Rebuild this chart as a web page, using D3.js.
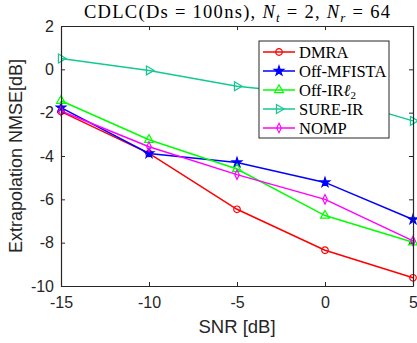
<!DOCTYPE html>
<html>
<head>
<meta charset="utf-8">
<script src="https://cdn.jsdelivr.net/npm/d3@7"></script>
<style>
  body { margin: 0; background: #fff; }
  svg { display: block; }
</style>
</head>
<body>
<script>
// values
var snr = [-15, -10, -5, 0, 5];
var dmra = [-1.95, -3.88, -6.46, -8.35, -9.62];
var mfista = [-1.77, -3.88, -4.3, -5.22, -6.93];
var offIr = [-1.45, -3.25, -4.6, -6.75, -7.98];
var sureIr = [0.5, -0.05, -0.78, -1.2, -2.38];
var nomp = [-1.92, -3.57, -4.86, -6.0, -7.92];
var names = ['DMRA', 'Off-MFISTA', 'Off-IR', 'SURE-IR', 'NOMP'];
var xTicks = [-15, -10, -5, 0, 5];
var yTicks = [-10, -8, -6, -4, -2, 0, 2];

var width = 417, height = 343;
var plotLeft = 61, plotRight = 413, plotTop = 26, plotBottom = 286;
var axisColor = '#262626';

var x = d3.scaleLinear().domain([-15, 5]).range([plotLeft, plotRight]);
var y = d3.scaleLinear().domain([-10, 2]).range([plotBottom, plotTop]);

var series = [
    { name: names[0], values: dmra, color: '#ff0000', shape: 'circle' },
    { name: names[1], values: mfista, color: '#0000ff', shape: 'star' },
    { name: names[2], values: offIr, color: '#00ff00', shape: 'up' },
    { name: names[3], values: sureIr, color: '#14c891', shape: 'right' },
    { name: names[4], values: nomp, color: '#ff00ff', shape: 'diamond' }
];

var svg = d3.select('body')
    .append('svg')
    .attr('width', width)
    .attr('height', height);

function drawMarker(g, shape, color) {
    var sym;
    if (shape === 'circle') sym = d3.symbol().type(d3.symbolCircle).size(34);
    if (shape === 'star') sym = d3.symbol().type(d3.symbolStar).size(28);
    if (shape === 'up' || shape === 'right') sym = d3.symbol().type(d3.symbolTriangle).size(34);
    if (shape === 'diamond') sym = d3.symbol().type(d3.symbolDiamond).size(22);
    var p = g.append('path')
        .attr('d', sym())
        .attr('fill', shape === 'star' ? color : 'none')
        .attr('stroke', color)
        .attr('stroke-width', 1.2);
    if (shape === 'right') p.attr('transform', 'rotate(90)');
    if (shape === 'diamond') p.attr('transform', 'scale(0.9,1.1)');
}

// series
var line = d3.line()
    .x(function(d, i) { return x(snr[i]); })
    .y(function(d) { return y(d); });

series.forEach(function(s) {
    svg.append('path')
        .attr('d', line(s.values))
        .attr('fill', 'none')
        .attr('stroke', s.color)
        .attr('stroke-width', 1.5);
    s.values.forEach(function(v, i) {
        var g = svg.append('g')
            .attr('transform', 'translate(' + x(snr[i]) + ',' + y(v) + ')');
        drawMarker(g, s.shape, s.color);
    });
});

// axes box with inward ticks
var fmt = function(d) { return String(d); };
var ax = svg.append('g');
var xb = d3.axisBottom(x).tickValues(xTicks).tickSizeInner(-4).tickSizeOuter(0).tickPadding(11).tickFormat(fmt);
var xt = d3.axisTop(x).tickValues(xTicks).tickSizeInner(-4).tickSizeOuter(0).tickFormat('');
var yl = d3.axisLeft(y).tickValues(yTicks).tickSizeInner(-4).tickSizeOuter(0).tickPadding(7).tickFormat(fmt);
var yr = d3.axisRight(y).tickValues(yTicks).tickSizeInner(-4).tickSizeOuter(0).tickFormat('');

ax.append('g').attr('transform', 'translate(0,' + plotBottom + ')').call(xb);
ax.append('g').attr('transform', 'translate(0,' + plotTop + ')').call(xt);
ax.append('g').attr('transform', 'translate(' + plotLeft + ',0)').call(yl);
ax.append('g').attr('transform', 'translate(' + plotRight + ',0)').call(yr);

ax.selectAll('.domain').attr('stroke', axisColor).attr('stroke-width', 1.2);
ax.selectAll('.tick line').attr('stroke', axisColor);
ax.selectAll('.tick text')
    .attr('fill', axisColor)
    .style('font-family', 'Liberation Sans, Arial, sans-serif')
    .style('font-size', '16px');

// axis labels
svg.append('text')
    .attr('x', (plotLeft + plotRight) / 2)
    .attr('y', 333)
    .attr('text-anchor', 'middle')
    .attr('fill', axisColor)
    .style('font-family', 'Liberation Sans, Arial, sans-serif')
    .style('font-size', '18.5px')
    .text('SNR [dB]');

svg.append('text')
    .attr('transform', 'translate(22,' + ((plotTop + plotBottom) / 2) + ') rotate(-90)')
    .attr('text-anchor', 'middle')
    .attr('fill', axisColor)
    .style('font-family', 'Liberation Sans, Arial, sans-serif')
    .style('font-size', '18px')
    .text('Extrapolation NMSE[dB]');

// title
var title = svg.append('text')
    .attr('x', 237)
    .attr('y', 18)
    .attr('text-anchor', 'middle')
    .attr('fill', '#000')
    .attr('textLength', 306)
    .attr('lengthAdjust', 'spacing')
    .style('font-family', 'Liberation Serif, Times New Roman, serif')
    .style('font-size', '18.5px');
title.append('tspan').text('CDLC(Ds = 100ns), ');
title.append('tspan').attr('font-style', 'italic').text('N');
title.append('tspan').attr('dy', 3.5).style('font-size', '13px').attr('font-style', 'italic').text('t');
title.append('tspan').attr('dy', -3.5).text(' = 2, ');
title.append('tspan').attr('font-style', 'italic').text('N');
title.append('tspan').attr('dy', 3.5).style('font-size', '13px').attr('font-style', 'italic').text('r');
title.append('tspan').attr('dy', -3.5).text(' = 64');

// legend
var lx = 259, ly = 41, lw = 130, lh = 97, rowH = 19;
var legend = svg.append('g');
legend.append('rect')
    .attr('x', lx).attr('y', ly)
    .attr('width', lw).attr('height', lh)
    .attr('fill', '#fff')
    .attr('stroke', axisColor)
    .attr('stroke-width', 1);

series.forEach(function(s, i) {
    var cy = ly + 11 + i * rowH;
    legend.append('line')
        .attr('x1', lx + 4).attr('x2', lx + 36)
        .attr('y1', cy).attr('y2', cy)
        .attr('stroke', s.color)
        .attr('stroke-width', 1.5);
    var g = legend.append('g').attr('transform', 'translate(' + (lx + 20) + ',' + cy + ')');
    drawMarker(g, s.shape, s.color);
    var t = legend.append('text')
        .attr('x', lx + 40)
        .attr('y', cy + 5.5)
        .attr('fill', '#000')
        .style('font-family', 'Liberation Serif, Times New Roman, serif')
        .style('font-size', '16.5px');
    if (i === 2) {
        t.append('tspan').text('Off-IR');
        t.append('tspan').attr('font-style', 'italic').text('\u2113');
        t.append('tspan').attr('dy', 3).style('font-size', '11px').text('2');
    } else {
        t.text(s.name);
    }
});
</script>
</body>
</html>
